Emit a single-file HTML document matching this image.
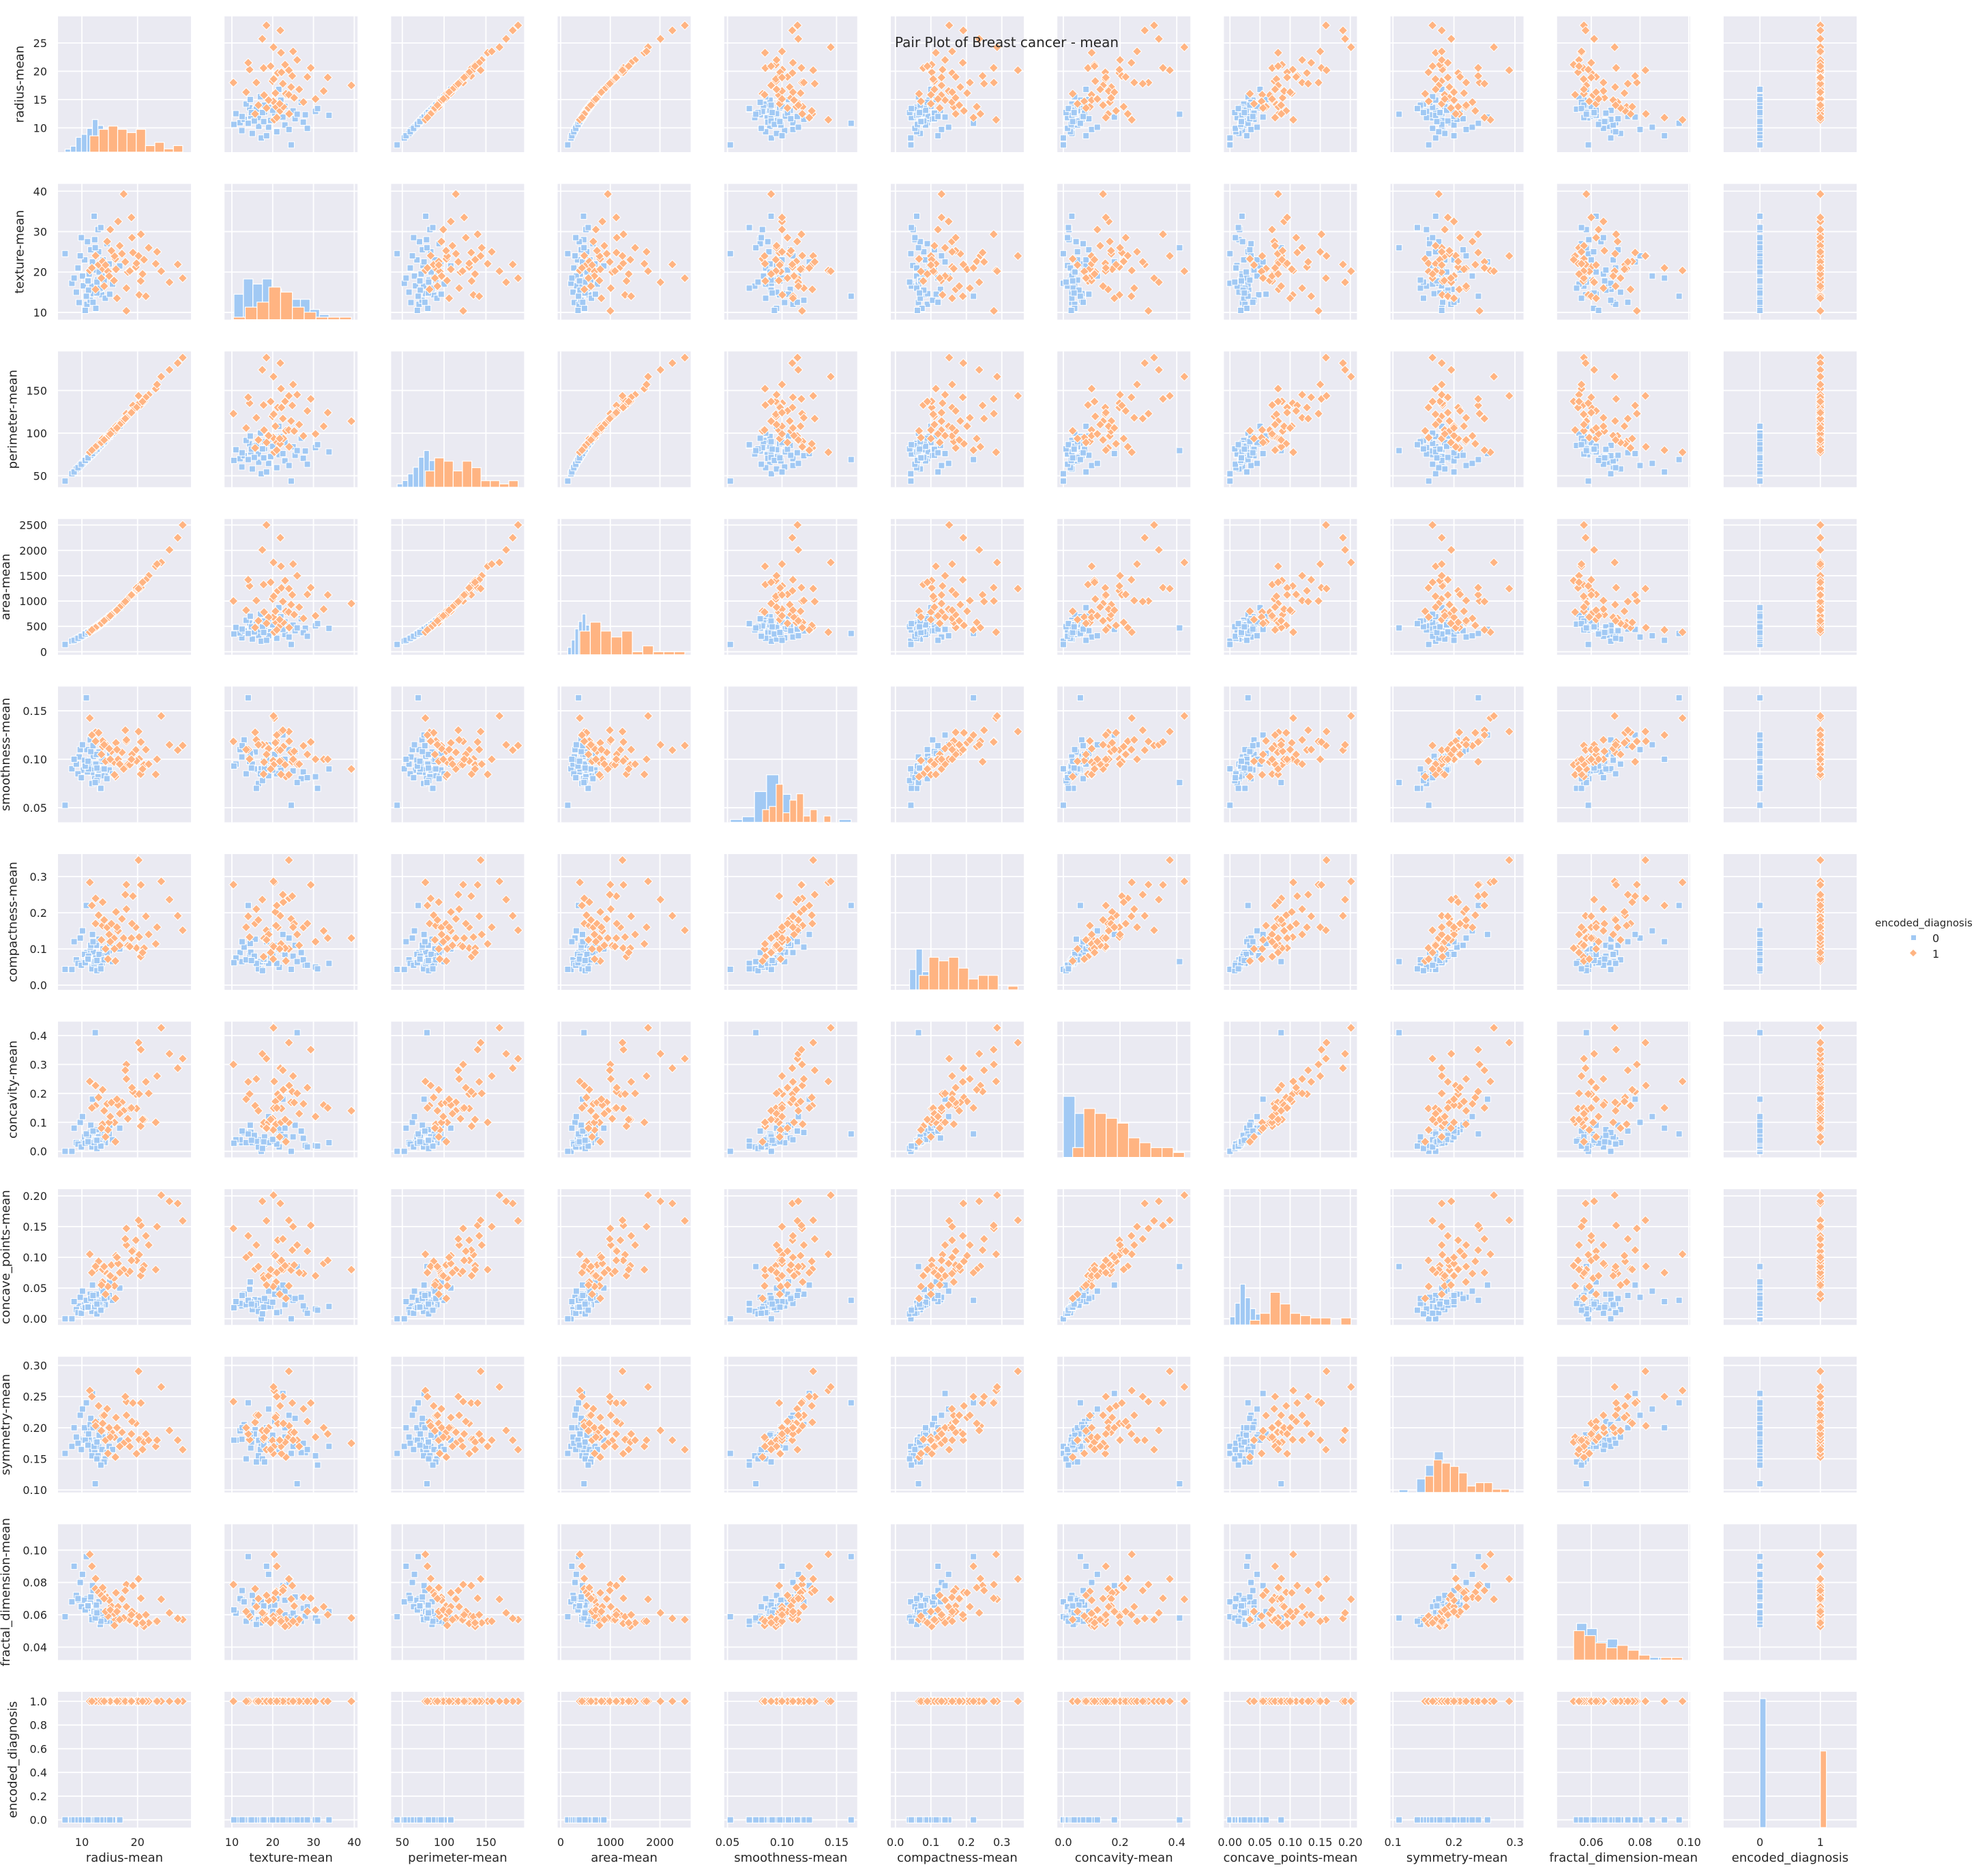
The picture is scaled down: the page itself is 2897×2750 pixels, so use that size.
<!DOCTYPE html>
<html><head><meta charset="utf-8">
<style>
html,body{margin:0;padding:0;background:#fff;}
svg{display:block;font-family:"DejaVu Sans","Liberation Sans",sans-serif;}
</style></head>
<body>
<svg id="chart" width="2897" height="2750" viewBox="0 0 2897 2750" xmlns="http://www.w3.org/2000/svg">
<g id="panels"></g>
<text x="1312" y="69" font-size="20" fill="#262626">Pair Plot of Breast cancer - mean</text>
<g>
<text x="2749" y="1358" font-size="15" fill="#262626">encoded_diagnosis</text>
<rect x="2802" y="1371" width="7" height="7" fill="#a1c9f4"/>
<text x="2833" y="1381" font-size="16" fill="#262626">0</text>
<path d="M2805 1392 l5 5 l-5 5 l-5 -5z" fill="#ffb482"/>
<text x="2833" y="1404" font-size="16" fill="#262626">1</text>
</g>
</svg>
<script>
// ---------- data ----------
const varNames = ["radius-mean","texture-mean","perimeter-mean","area-mean","smoothness-mean","compactness-mean","concavity-mean","concave_points-mean","symmetry-mean","fractal_dimension-mean","encoded_diagnosis"];
const benignRows = [
[13.54,14.36,87.46,566,0.0978,0.0813,0.0666,0.0478,0.1885,0.0577],
[13.08,15.71,85.63,520,0.1075,0.127,0.0457,0.0311,0.1967,0.0681],
[9.50,12.44,60.34,274,0.1024,0.0649,0.0296,0.0208,0.1815,0.0691],
[12.05,14.63,78.0,449,0.1031,0.0909,0.0658,0.0275,0.1675,0.0604],
[11.76,21.6,74.72,427,0.0864,0.0490,0.0151,0.0116,0.1650,0.0585],
[10.26,16.58,65.85,321,0.0888,0.0618,0.0311,0.0171,0.1796,0.0672],
[8.20,17.2,52.4,208,0.0902,0.0432,0.0,0.0,0.1700,0.0680],
[6.98,24.54,43.79,143,0.0526,0.0436,0.0,0.0,0.1587,0.0588],
[14.2,13.5,91.4,620,0.0850,0.0700,0.0300,0.0230,0.1500,0.0560],
[12.8,18.0,82.0,500,0.0920,0.0650,0.0250,0.0180,0.1750,0.0600],
[11.3,19.5,72.5,395,0.0960,0.0750,0.0350,0.0200,0.1800,0.0650],
[13.0,25.0,84.0,525,0.0880,0.0800,0.0500,0.0300,0.1700,0.0610],
[10.9,12.0,70.0,370,0.1100,0.0900,0.0400,0.0250,0.1950,0.0700],
[12.3,28.0,79.0,465,0.0800,0.0550,0.0200,0.0150,0.1600,0.0590],
[9.0,15.0,58.0,250,0.0950,0.0700,0.0300,0.0150,0.1850,0.0720],
[14.9,22.0,96.0,690,0.0890,0.0950,0.0600,0.0380,0.1700,0.0570],
[11.8,16.5,75.5,430,0.0750,0.0450,0.0150,0.0120,0.1550,0.0570],
[12.6,20.5,81.0,490,0.1050,0.1100,0.0750,0.0400,0.2100,0.0660],
[10.5,23.0,67.5,340,0.0990,0.0850,0.0500,0.0230,0.2000,0.0690],
[13.6,19.0,88.0,570,0.0830,0.0600,0.0300,0.0200,0.1650,0.0565],
[11.0,27.5,70.5,375,0.0870,0.0700,0.0450,0.0210,0.1750,0.0640],
[12.9,30.5,83.0,510,0.0820,0.0500,0.0200,0.0160,0.1550,0.0580],
[9.7,24.0,62.0,290,0.1100,0.1300,0.1000,0.0350,0.2200,0.0800],
[15.5,17.0,100.0,740,0.0850,0.0650,0.0400,0.0300,0.1650,0.0550],
[11.5,13.0,73.5,410,0.1200,0.1050,0.0650,0.0400,0.2050,0.0680],
[13.3,16.0,85.5,545,0.0700,0.0600,0.0350,0.0250,0.1450,0.0540],
[10.1,19.0,64.5,315,0.1150,0.1500,0.1200,0.0450,0.2300,0.0850],
[12.2,33.8,78.0,460,0.0900,0.0600,0.0300,0.0200,0.1700,0.0620],
[14.5,27.0,94.0,650,0.0800,0.0900,0.0700,0.0350,0.1600,0.0560],
[8.6,18.5,54.5,225,0.1000,0.1200,0.0800,0.0280,0.2000,0.0900],
[12.5,11.0,80.5,480,0.0950,0.0750,0.0400,0.0280,0.1800,0.0610],
[11.2,15.5,71.5,390,0.0900,0.0800,0.0550,0.0220,0.1900,0.0660],
[13.8,23.0,89.0,590,0.1000,0.1000,0.0800,0.0450,0.1850,0.0600],
[9.3,21.0,59.5,265,0.0850,0.0600,0.0250,0.0100,0.1750,0.0700],
[16.8,21.5,108.0,870,0.0950,0.1000,0.0800,0.0500,0.1800,0.0580],
[10.8,14.0,69.0,360,0.1634,0.2200,0.0600,0.0300,0.2400,0.0960],
[12.7,17.5,81.5,495,0.0780,0.0400,0.0100,0.0080,0.1500,0.0580],
[11.6,25.5,74.0,415,0.1080,0.1100,0.0900,0.0330,0.2150,0.0710],
[13.1,20.0,84.5,530,0.0890,0.0850,0.0410,0.0270,0.1880,0.0620],
[12.0,12.5,77.0,445,0.1140,0.1200,0.0700,0.0380,0.2000,0.0750],
[9.9,28.5,63.5,305,0.0810,0.0550,0.0150,0.0090,0.1650,0.0650],
[14.0,18.0,90.0,605,0.0900,0.0700,0.0500,0.0330,0.1450,0.0570],
[11.9,22.5,76.0,440,0.1250,0.1400,0.1800,0.0550,0.2550,0.0780],
[13.4,31.0,86.5,555,0.0700,0.0450,0.0180,0.0140,0.1400,0.0560],
[10.6,10.5,68.0,350,0.0930,0.0620,0.0280,0.0180,0.1800,0.0630],
[15.0,14.5,96.5,700,0.1060,0.1150,0.0900,0.0600,0.1900,0.0620],
[12.4,26.0,79.5,470,0.0760,0.0650,0.4100,0.0850,0.1100,0.0580],
[11.1,17.8,71.0,380,0.0980,0.0720,0.0330,0.0190,0.1720,0.0655],
[12.7,14.8,81.2,492,0.0910,0.0680,0.0380,0.0240,0.1770,0.0612]
];
const malignantRows = [
[17.99,10.38,122.8,1001,0.1184,0.2776,0.3001,0.1471,0.2419,0.0787],
[20.57,17.77,132.9,1326,0.0847,0.0786,0.0869,0.0702,0.1812,0.0567],
[19.69,21.25,130.0,1203,0.1096,0.1599,0.1974,0.1279,0.2069,0.0600],
[11.42,20.38,77.58,386,0.1425,0.2839,0.2414,0.1052,0.2597,0.0974],
[20.29,14.34,135.1,1297,0.1003,0.1328,0.1980,0.1043,0.1809,0.0588],
[12.45,15.7,82.57,477,0.1278,0.1700,0.1578,0.0809,0.2087,0.0761],
[18.25,19.98,119.6,1040,0.0946,0.1090,0.1127,0.0740,0.1794,0.0574],
[13.71,20.83,90.2,578,0.1189,0.1645,0.0937,0.0599,0.2196,0.0745],
[13.0,21.82,87.5,520,0.1273,0.1932,0.1859,0.0935,0.2350,0.0739],
[12.46,24.04,83.97,476,0.1186,0.2396,0.2273,0.0854,0.2030,0.0824],
[16.02,23.24,102.7,798,0.0821,0.0667,0.0330,0.0332,0.1528,0.0570],
[15.78,17.89,103.6,781,0.0971,0.1292,0.0995,0.0661,0.1842,0.0608],
[19.17,24.8,132.4,1123,0.0974,0.2458,0.2065,0.1118,0.2397,0.0780],
[15.85,23.95,103.7,782,0.0840,0.1002,0.0994,0.0536,0.1847,0.0534],
[13.73,22.61,93.6,578,0.1131,0.2293,0.2128,0.0803,0.2069,0.0768],
[14.54,27.54,96.73,658,0.1139,0.1595,0.1639,0.0736,0.2303,0.0708],
[14.68,20.13,94.74,684,0.0987,0.0720,0.0740,0.0526,0.1586,0.0592],
[16.13,20.68,108.1,799,0.1170,0.2022,0.1722,0.1028,0.2164,0.0736],
[19.81,22.15,130.0,1260,0.0983,0.1027,0.1479,0.0950,0.1582,0.0546],
[28.11,18.47,188.5,2501,0.1142,0.1516,0.3201,0.1595,0.1648,0.0570],
[27.22,21.87,182.1,2250,0.1094,0.1914,0.2871,0.1878,0.1800,0.0577],
[25.73,17.46,174.2,2010,0.1149,0.2363,0.3368,0.1913,0.1956,0.0612],
[24.25,20.2,166.2,1761,0.1447,0.2867,0.4268,0.2012,0.2655,0.0696],
[23.27,22.04,152.1,1686,0.0844,0.1140,0.1000,0.0800,0.1700,0.0560],
[21.16,23.04,137.2,1404,0.0943,0.1022,0.1097,0.0864,0.1769,0.0528],
[20.6,29.33,140.1,1265,0.1178,0.2770,0.3514,0.1520,0.2397,0.0702],
[17.2,24.52,114.2,929,0.1071,0.1830,0.1692,0.0794,0.1927,0.0698],
[15.3,25.27,102.4,732,0.1082,0.1697,0.1683,0.0875,0.1926,0.0654],
[18.61,20.25,122.1,1094,0.0944,0.1066,0.1490,0.0773,0.1697,0.0569],
[20.18,23.97,143.7,1245,0.1286,0.3454,0.3754,0.1604,0.2906,0.0822],
[14.25,21.72,93.63,634,0.0979,0.1000,0.0500,0.0400,0.1800,0.0620],
[17.5,39.28,114.0,950,0.0900,0.1300,0.1400,0.0800,0.1750,0.0580],
[16.5,32.5,108.0,840,0.1000,0.1500,0.1600,0.0900,0.2000,0.0650],
[22.0,26.0,145.0,1500,0.0950,0.1400,0.2000,0.1200,0.1800,0.0550],
[19.0,28.5,126.0,1130,0.1050,0.1700,0.2200,0.1100,0.2100,0.0620],
[14.9,19.0,97.0,680,0.1110,0.1400,0.1000,0.0700,0.2000,0.0690],
[21.5,14.0,142.0,1420,0.1100,0.1900,0.2400,0.1350,0.1900,0.0600],
[18.0,16.0,118.0,1010,0.1200,0.2100,0.2500,0.1200,0.2200,0.0650],
[16.8,26.5,110.0,880,0.0950,0.1100,0.1300,0.0750,0.1700,0.0570],
[13.5,18.5,89.0,560,0.1050,0.1250,0.0800,0.0550,0.1950,0.0720],
[23.5,25.0,157.0,1730,0.1000,0.1600,0.2600,0.1500,0.1800,0.0560],
[15.1,30.5,99.0,710,0.1000,0.1200,0.1200,0.0700,0.1850,0.0630],
[17.8,22.5,117.0,990,0.1300,0.2500,0.2800,0.1300,0.2500,0.0750],
[20.9,19.5,137.0,1370,0.0900,0.0900,0.1100,0.0800,0.1650,0.0550],
[11.8,21.0,80.0,430,0.1250,0.2200,0.1500,0.0750,0.2500,0.0900],
[14.0,16.5,92.0,610,0.1150,0.1800,0.1400,0.0850,0.2200,0.0700],
[18.9,33.5,124.0,1120,0.1000,0.1300,0.1500,0.0950,0.1900,0.0600],
[16.3,13.5,106.0,820,0.1100,0.1600,0.1800,0.1000,0.2000,0.0620]
];
const classCounts = [357, 212];
const xRanges = [[5.7,29.6],[8.2,40.8],[36.6,195.7],[-60,2619],[0.047,0.169],[-0.013,0.362],[-0.021,0.448],[-0.010,0.211],[0.096,0.314],[0.046,0.1005],[-0.6,1.6]];
const yRanges = [[5.7,29.7],[8.2,41.8],[36.6,195.7],[-60,2619],[0.035,0.175],[-0.013,0.362],[-0.021,0.448],[-0.010,0.211],[0.096,0.314],[0.032,0.116],[-0.065,1.08]];
const xTicks = [[10,20],[10,20,30,40],[50,100,150],[0,1000,2000],[0.05,0.10,0.15],[0.0,0.1,0.2,0.3],[0.0,0.2,0.4],[0.00,0.05,0.10,0.15,0.20],[0.1,0.2,0.3],[0.06,0.08,0.10],[0,1]];
const xTickLabels = [["10","20"],["10","20","30","40"],["50","100","150"],["0","1000","2000"],["0.05","0.10","0.15"],["0.0","0.1","0.2","0.3"],["0.0","0.2","0.4"],["0.00","0.05","0.10","0.15","0.20"],["0.1","0.2","0.3"],["0.06","0.08","0.10"],["0","1"]];
const yTicks = [[10,15,20,25],[10,20,30,40],[50,100,150],[0,500,1000,1500,2000,2500],[0.05,0.10,0.15],[0.0,0.1,0.2,0.3],[0.0,0.1,0.2,0.3,0.4],[0.00,0.05,0.10,0.15,0.20],[0.10,0.15,0.20,0.25,0.30],[0.04,0.06,0.08,0.10],[0.0,0.2,0.4,0.6,0.8,1.0]];
const yTickLabels = [["10","15","20","25"],["10","20","30","40"],["50","100","150"],["0","500","1000","1500","2000","2500"],["0.05","0.10","0.15"],["0.0","0.1","0.2","0.3"],["0.0","0.1","0.2","0.3","0.4"],["0.00","0.05","0.10","0.15","0.20"],["0.10","0.15","0.20","0.25","0.30"],["0.04","0.06","0.08","0.10"],["0.0","0.2","0.4","0.6","0.8","1.0"]];
const diagHeightFrac = [0.24,0.3,0.27,0.3,0.35,0.3,0.45,0.3,0.3,0.27,0.95];

// ---------- layout ----------
const NS = "http://www.w3.org/2000/svg";
const L0 = 85, T0 = 24, STEPX = 244.2, STEPY = 245.6, PW = 195, PH = 199;
const BLUE = "#a1c9f4", ORANGE = "#ffb482", BG = "#eaeaf2", TXT = "#262626";
const root = document.getElementById("panels");
function mk(tag, attrs, parent){const e=document.createElementNS(NS,tag);for(const k in attrs)e.setAttribute(k,attrs[k]);parent.appendChild(e);return e;}
function val(row, v, cls){return v===10 ? cls : row[v];}
function xScale(c, v){const r=xRanges[c];return L0+c*STEPX+(v-r[0])/(r[1]-r[0])*PW;}
function yScale(rw, v){const r=yRanges[rw];return T0+rw*STEPY+PH-(v-r[0])/(r[1]-r[0])*PH;}
const classes = [[benignRows,0,BLUE],[malignantRows,1,ORANGE]];

for(let r=0;r<11;r++){
  for(let c=0;c<11;c++){
    const px=L0+c*STEPX, py=T0+r*STEPY;
    const g=mk("g",{},root);
    
    
    const bg=mk("rect",{x:px,y:py,width:PW,height:PH,fill:BG},g);
    
    
    xTicks[c].forEach(t=>{const x=xScale(c,t);if(x<px-0.5||x>px+PW+0.5)return;
      const l=mk("line",{x1:x,x2:x,y1:py,y2:py+PH,stroke:"#fff","stroke-width":1.8},g);
      
      });
    yTicks[r].forEach(t=>{const y=yScale(r,t);if(y<py-0.5||y>py+PH+0.5)return;
      const l=mk("line",{x1:px,x2:px+PW,y1:y,y2:y,stroke:"#fff","stroke-width":1.8},g);
      
      });
    if(r===c){
      classes.forEach(([rows,cls,col])=>{
        let vals = rows.map(rw=>val(rw,c,cls));
        let counts, edges;
        if(c===10){ counts=[classCounts[cls]]; edges=[cls,cls+0.1]; }
        else {
          const mn=Math.min(...vals), mx=Math.max(...vals), nb=10, w=(mx-mn)/nb||1;
          counts=new Array(nb).fill(0); edges=[];
          for(let i=0;i<=nb;i++)edges.push(mn+i*w);
          vals.forEach(v=>{let i=Math.floor((v-mn)/w);if(i>=nb)i=nb-1;counts[i]++;});
        }
        const maxC = c===10 ? classCounts[0] : Math.max(...counts)*(cls===0?1:1.25);
        counts.forEach((n,i)=>{
          if(!n)return;
          const x1=xScale(c,edges[i]), x2=xScale(c,edges[i+1]);
          const h=n/maxC*diagHeightFrac[c]*PH;
          const b=mk("rect",{x:x1,y:py+PH-h,width:Math.max(1,x2-x1),height:h,fill:col,stroke:"#fff","stroke-width":1.2},g);
          
          
        });
      });
    } else {
      classes.forEach(([rows,cls,col])=>{
        rows.forEach(rw=>{
          const x=xScale(c,val(rw,c,cls)), y=yScale(r,val(rw,r,cls));
          let m;
          if(cls===0) m=mk("rect",{x:x-4.5,y:y-4.5,width:9,height:9,fill:col,stroke:"#fff","stroke-width":1},g);
          else m=mk("path",{d:`M${x} ${y-6.5} L${x+6.5} ${y} L${x} ${y+6.5} L${x-6.5} ${y}Z`,fill:col,stroke:"#fff","stroke-width":1},g);
          
          
        });
      });
    }
    if(c===0){
      yTicks[r].forEach((t,i)=>{const y=yScale(r,t);if(y<py-0.5||y>py+PH+0.5)return;
        const tx=mk("text",{x:px-16,y:y+6,"text-anchor":"end","font-size":16,fill:TXT},g);
        tx.textContent=yTickLabels[r][i];
        
        });
      const maxW=Math.max(...yTickLabels[r].map(s=>s.length))*10.2;
      const lx=px-16-maxW-14;
      const yl=mk("text",{x:lx,y:py+PH/2,"text-anchor":"middle","font-size":18,fill:TXT,transform:`rotate(-90 ${lx} ${py+PH/2})`},g);
      yl.textContent=varNames[r];
      
      
    }
    if(r===10){
      xTicks[c].forEach((t,i)=>{const x=xScale(c,t);if(x<px-0.5||x>px+PW+0.5)return;
        const tx=mk("text",{x:x,y:py+PH+27,"text-anchor":"middle","font-size":16,fill:TXT},g);
        tx.textContent=xTickLabels[c][i];
        
        });
      const xl=mk("text",{x:px+PW/2,y:py+PH+50,"text-anchor":"middle","font-size":18,fill:TXT},g);
      xl.textContent=varNames[c];
      
      
    }
  }
}
</script>
</body></html>
